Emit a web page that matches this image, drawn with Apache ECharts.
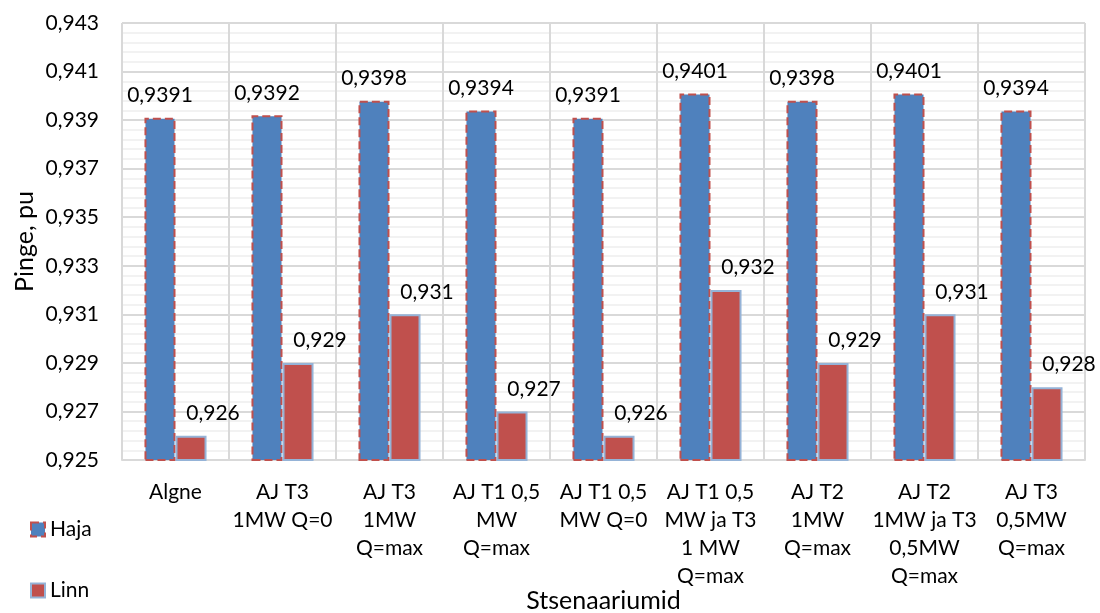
<!DOCTYPE html>
<html>
<head>
<meta charset="utf-8">
<script src="https://cdn.jsdelivr.net/npm/echarts@6/dist/echarts.min.js"></script>
<style>
html,body{margin:0;padding:0;background:#fff;}
#c{width:1100px;height:613px;}
</style>
</head>
<body>
<div id="c"></div>
<script>
const categories = [
  "Algne",
  "AJ T3\n1MW Q=0",
  "AJ T3\n1MW\nQ=max",
  "AJ T1 0,5\nMW\nQ=max",
  "AJ T1 0,5\nMW Q=0",
  "AJ T1 0,5\nMW ja T3\n1 MW\nQ=max",
  "AJ T2\n1MW\nQ=max",
  "AJ T2\n1MW ja T3\n0,5MW\nQ=max",
  "AJ T3\n0,5MW\nQ=max"
];
const haja = [0.9391, 0.9392, 0.9398, 0.9394, 0.9391, 0.9401, 0.9398, 0.9401, 0.9394];
const linn = [0.926, 0.929, 0.931, 0.927, 0.926, 0.932, 0.929, 0.931, 0.928];
const yMin = 0.925, yMax = 0.943, yStep = 0.002;

const FONT = 'Lato';
const fmt = v => String(v).replace('.', ',');

const chart = echarts.init(document.getElementById('c'), null, {renderer: 'canvas'});
chart.setOption({
  animation: false,
  backgroundColor: '#ffffff',
  textStyle: {fontFamily: FONT},
  grid: {left: 122, right: 15, top: 23, bottom: 153, containLabel: false, outerBoundsMode: 'none'},
  legend: {
    orient: 'vertical',
    left: 25,
    top: 514,
    itemWidth: 14,
    itemHeight: 14,
    itemGap: 40,
    icon: 'rect',
    textStyle: {fontFamily: FONT, fontSize: 21, color: '#000'},
    data: [
      {name: 'Haja', itemStyle: {color: '#4f81bd', borderColor: '#c0504d', borderWidth: 2, borderType: 'dashed'}},
      {name: 'Linn', itemStyle: {color: '#c0504d', borderColor: '#95b3d7', borderWidth: 2}}
    ]
  },
  xAxis: {
    type: 'category',
    data: categories,
    name: 'Stsenaariumid',
    nameLocation: 'middle',
    nameGap: 128,
    nameMoveOverlap: false,
    nameTextStyle: {fontFamily: FONT, fontSize: 25, color: '#000'},
    axisLine: {show: true, lineStyle: {color: '#d9d9d9', width: 2}},
    axisTick: {show: false},
    splitLine: {show: true, lineStyle: {color: '#d9d9d9', width: 2}},
    axisLabel: {fontFamily: FONT, fontSize: 21, color: '#000', lineHeight: 28, margin: 18, interval: 0}
  },
  yAxis: {
    type: 'value',
    min: yMin,
    max: yMax,
    interval: yStep,
    name: 'Pinge, pu',
    nameLocation: 'middle',
    nameGap: 85,
    nameMoveOverlap: false,
    nameTextStyle: {fontFamily: FONT, fontSize: 25, color: '#000'},
    axisLine: {show: false},
    axisTick: {show: false},
    axisLabel: {fontFamily: FONT, fontSize: 21, color: '#000', margin: 23,
      formatter: v => v.toFixed(3).replace('.', ',')},
    splitLine: {show: true, lineStyle: {color: '#d9d9d9', width: 2}},
    minorTick: {show: false, splitNumber: 5},
    minorSplitLine: {show: true, lineStyle: {color: '#eeeeee', width: 1.5}}
  },
  series: [
    {
      name: 'Haja',
      type: 'bar',
      data: haja,
      barGap: '0%',
      barCategoryGap: '42%',
      itemStyle: {color: '#4f81bd', borderColor: '#c0504d', borderWidth: 2, borderType: [8, 4]},
      label: {show: true, position: 'top', distance: 12, fontFamily: FONT, fontSize: 21, color: '#000',
        formatter: p => fmt(p.value)}
    },
    {
      name: 'Linn',
      type: 'bar',
      data: linn,
      itemStyle: {color: '#c0504d', borderColor: '#95b3d7', borderWidth: 2},
      label: {show: true, position: 'top', distance: 12, offset: [22, 0], fontFamily: FONT, fontSize: 21, color: '#000',
        formatter: p => fmt(p.value)}
    }
  ]
});
</script>
</body>
</html>
